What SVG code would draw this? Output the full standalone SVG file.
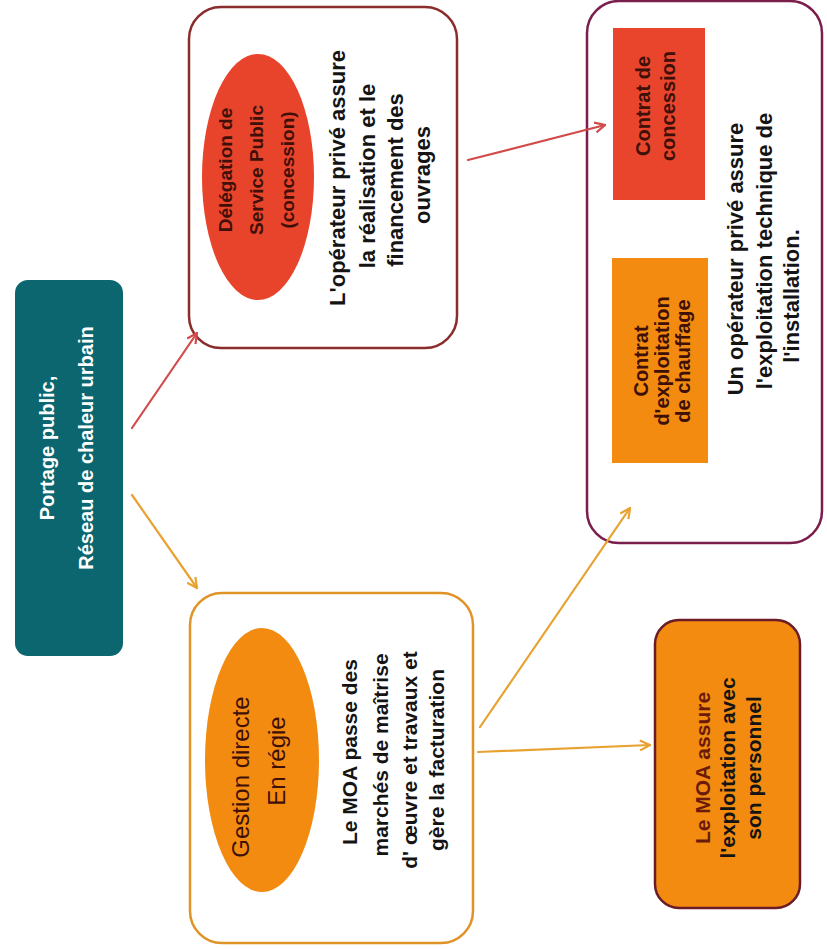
<svg xmlns="http://www.w3.org/2000/svg" width="827" height="949" viewBox="0 0 827 949">
  <defs>
    <style>
      .t { font-family: "Liberation Sans", Arial, sans-serif; text-anchor: middle; }
      .b { font-weight: bold; }
      .ink { fill: #141414; }
      .dark { fill: #3e1008; }
      .wht { fill: #ffffff; }
      .con { fill: none; stroke-width: 2.2; stroke-linecap: round; }
      .red { stroke: #d24a4a; }
      .org { stroke: #e8a232; }
    </style>
    <marker id="ah-red" viewBox="0 0 12 12" refX="11" refY="6" markerWidth="12" markerHeight="12" markerUnits="userSpaceOnUse" orient="auto">
      <path d="M1,1 L11,6 L1,11" fill="none" stroke="#d24a4a" stroke-width="2.2"/>
    </marker>
    <marker id="ah-org" viewBox="0 0 12 12" refX="11" refY="6" markerWidth="12" markerHeight="12" markerUnits="userSpaceOnUse" orient="auto">
      <path d="M1,1 L11,6 L1,11" fill="none" stroke="#e8a232" stroke-width="2.2"/>
    </marker>
  </defs>

  <rect width="827" height="949" fill="#ffffff"/>

  <!-- root: public ownership -->
  <g id="portage">
    <rect x="15" y="280" width="108" height="376" rx="13" fill="#0c6670"/>
    <g transform="rotate(-90)">
      <text class="t b wht" x="-448" y="54" font-size="20">Portage public,</text>
      <text class="t b wht" x="-448" y="93" font-size="20">Réseau de chaleur urbain</text>
    </g>
  </g>

  <!-- public service delegation -->
  <g id="dsp">
    <rect x="189" y="7" width="268" height="341" rx="32" fill="#ffffff" stroke="#8b2c2c" stroke-width="2.5"/>
    <ellipse cx="258" cy="177" rx="56" ry="123" fill="#e8432b"/>
    <g transform="rotate(-90)">
      <text class="t b dark" x="-170" y="232" font-size="19">Délégation de</text>
      <text class="t b dark" x="-170" y="263" font-size="19">Service Public</text>
      <text class="t b dark" x="-170" y="294" font-size="19">(concession)</text>
      <text class="t b ink" x="-178" y="345" font-size="22">L'opérateur privé assure</text>
      <text class="t b ink" x="-176" y="375" font-size="22">la réalisation et le</text>
      <text class="t b ink" x="-180" y="403" font-size="22">financement des</text>
      <text class="t b ink" x="-175" y="430" font-size="22">ouvrages</text>
    </g>
  </g>

  <!-- private operator contracts -->
  <g id="contrats">
    <rect x="587" y="1" width="235" height="542" rx="32" fill="#ffffff" stroke="#7a1e4e" stroke-width="2.5"/>
    <rect x="613" y="28" width="92" height="172" fill="#e8452c"/>
    <rect x="612" y="258" width="96" height="205" fill="#f28b0f"/>
    <g transform="rotate(-90)">
      <text class="t b dark" x="-106" y="650" font-size="20">Contrat de</text>
      <text class="t b dark" x="-106" y="675" font-size="20">concession</text>
      <text class="t b dark" x="-361" y="648" font-size="20">Contrat</text>
      <text class="t b dark" x="-361" y="669" font-size="20">d'exploitation</text>
      <text class="t b dark" x="-361" y="690" font-size="20">de chauffage</text>
      <text class="t b ink" x="-259" y="743" font-size="22">Un opérateur privé assure</text>
      <text class="t b ink" x="-251" y="772" font-size="22">l'exploitation technique de</text>
      <text class="t b ink" x="-296" y="799" font-size="22">l'installation.</text>
    </g>
  </g>

  <!-- direct management -->
  <g id="regie">
    <rect x="190" y="593" width="283" height="350" rx="32" fill="#ffffff" stroke="#e09326" stroke-width="2.5"/>
    <ellipse cx="262" cy="760" rx="57" ry="132" fill="#f28b10"/>
    <g transform="rotate(-90)">
      <text class="t dark" x="-777" y="249" font-size="24">Gestion directe</text>
      <text class="t dark" x="-761" y="285" font-size="24">En régie</text>
      <text class="t b ink" x="-752" y="357" font-size="21">Le MOA passe des</text>
      <text class="t b ink" x="-755" y="388" font-size="21">marchés de maîtrise</text>
      <text class="t b ink" x="-760" y="417" font-size="21">d' œuvre et travaux et</text>
      <text class="t b ink" x="-760" y="444" font-size="21">gère la facturation</text>
    </g>
  </g>

  <!-- operation by own staff -->
  <g id="personnel">
    <rect x="655" y="620" width="145" height="288" rx="24" fill="#f28b10" stroke="#6b1c26" stroke-width="2.5"/>
    <g transform="rotate(-90)">
      <text class="t b" x="-768" y="710" font-size="21" fill="#6b1a0a">Le MOA assure</text>
      <text class="t b ink" x="-768" y="735" font-size="21">l'exploitation avec</text>
      <text class="t b ink" x="-768" y="761" font-size="21">son personnel</text>
    </g>
  </g>

  <!-- connectors, drawn over the boxes they enter -->
  <g id="connectors">
    <line class="con red" x1="132" y1="428" x2="197" y2="333" marker-end="url(#ah-red)"/>
    <line class="con org" x1="132" y1="495" x2="197" y2="588" marker-end="url(#ah-org)"/>
    <line class="con red" x1="468" y1="160" x2="605" y2="125" marker-end="url(#ah-red)"/>
    <line class="con org" x1="480" y1="727" x2="630" y2="508" marker-end="url(#ah-org)"/>
    <line class="con org" x1="478" y1="752" x2="650" y2="745" marker-end="url(#ah-org)"/>
  </g>
</svg>
